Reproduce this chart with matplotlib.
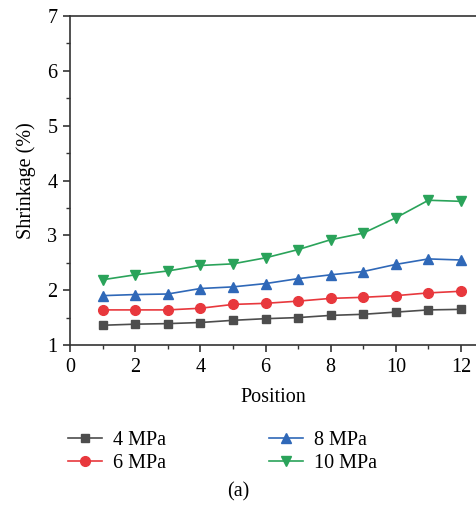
import matplotlib
matplotlib.use('Agg')

import matplotlib.pyplot as plt
from matplotlib.ticker import MultipleLocator

plt.rcParams['font.family'] = ['Liberation Serif', 'DejaVu Serif']

position = [1, 2, 3, 4, 5, 6, 7, 8, 9, 10, 11, 12]
mpa4 = [1.36, 1.38, 1.39, 1.41, 1.45, 1.48, 1.50, 1.54, 1.56, 1.60, 1.64, 1.65]
mpa6 = [1.64, 1.64, 1.64, 1.67, 1.74, 1.76, 1.80, 1.85, 1.87, 1.90, 1.95, 1.98]
mpa8 = [1.90, 1.92, 1.93, 2.03, 2.06, 2.12, 2.21, 2.28, 2.34, 2.47, 2.57, 2.55]
mpa10 = [2.19, 2.28, 2.35, 2.45, 2.48, 2.59, 2.74, 2.92, 3.04, 3.32, 3.64, 3.62]
labels = ['4 MPa', '6 MPa', '8 MPa', '10 MPa']

fig = plt.figure(figsize=(4.76, 5.15), dpi=100)
ax = fig.add_axes([70 / 476, 170 / 515, 406 / 476, 329 / 515])

h1, = ax.plot(position, mpa4, '-s', color='#4d4d4d', ms=6, lw=1.2, label=labels[0])
h2, = ax.plot(position, mpa6, '-o', color='#e8383d', ms=7, lw=1.2, label=labels[1])
h3, = ax.plot(position, mpa8, '-^', color='#2f68b8', ms=7.5, lw=1.2, label=labels[2])
h4, = ax.plot(position, mpa10, '-v', color='#2aa35a', ms=7.5, lw=1.2, label=labels[3])

ax.set_xlim(0, 12.46)
ax.set_ylim(1, 7)
ax.xaxis.set_major_locator(MultipleLocator(2))
ax.xaxis.set_minor_locator(MultipleLocator(1))
ax.yaxis.set_major_locator(MultipleLocator(1))
ax.yaxis.set_minor_locator(MultipleLocator(0.5))
ax.spines['right'].set_visible(False)
for s in ['left', 'bottom', 'top']:
    ax.spines[s].set_color('#333333')
    ax.spines[s].set_linewidth(1.2)
ax.tick_params(which='major', direction='out', length=5, width=1.2, color='#333333',
               labelsize=14.5, pad=4)
ax.tick_params(which='minor', direction='out', length=3, width=1, color='#333333')
ax.tick_params(top=False, which='both')

ax.set_xlabel('Position', fontsize=14.5, labelpad=8)
ax.set_ylabel('Shrinkage (%)', fontsize=14.5, labelpad=8)

leg_kw = dict(loc='upper left', frameon=False, fontsize=14.5, borderpad=0,
              borderaxespad=0, handlelength=1.7, labelspacing=0.2, handletextpad=0.55)
fig.legend(handles=[h1, h2], bbox_to_anchor=(68 / 476, 1 - 431 / 515), **leg_kw)
fig.legend(handles=[h3, h4], bbox_to_anchor=(269 / 476, 1 - 431 / 515), **leg_kw)
fig.text(238 / 476, 1 - 492 / 515, '(a)', ha='center', va='center', fontsize=14.5)

fig.savefig('out.png', dpi=100)
